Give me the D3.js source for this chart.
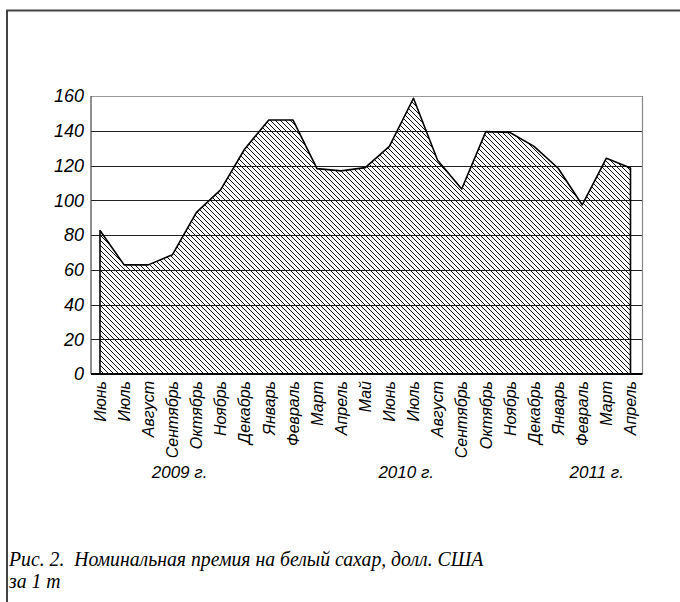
<!DOCTYPE html>
<html>
<head>
<meta charset="utf-8">
<script src="https://cdn.jsdelivr.net/npm/d3@7"></script>
<style>
  html, body { margin: 0; padding: 0; background: #fff; }
  svg { display: block; }
</style>
</head>
<body>
<svg id="chart" width="680" height="602"></svg>
<script>
// Monthly premium, Jun 2009 .. Apr 2011
const months = ['Июнь', 'Июль', 'Август', 'Сентябрь', 'Октябрь', 'Ноябрь', 'Декабрь',
  'Январь', 'Февраль', 'Март', 'Апрель', 'Май', 'Июнь', 'Июль', 'Август', 'Сентябрь',
  'Октябрь', 'Ноябрь', 'Декабрь', 'Январь', 'Февраль', 'Март', 'Апрель'];
const premium = [82.6, 62.8, 62.8, 68.6, 93, 106, 129.5, 146.2, 146.2, 118.2, 116.9, 118.8,
  131, 158.7, 123, 106.5, 139.5, 139, 131, 118.4, 97.3, 124.2, 118.5];
const yTicks = [0, 20, 40, 60, 80, 100, 120, 140, 160];
// year label sits under the month with this index
const years = [{ label: '2009 г.', at: 3.3 }, { label: '2010 г.', at: 12.7 }, { label: '2011 г.', at: 20.6 }];
const caption = ['Рис. 2.  Номинальная премия на белый сахар, долл. США', 'за 1 т'];

const svg = d3.select('#chart');
const axisFont = '"Liberation Sans", Arial, sans-serif';

// outer frame (left + top only)
svg.append('path')
  .attr('d', 'M7,602 V10.5 H680')
  .attr('fill', 'none').attr('stroke', '#444').attr('stroke-width', 2);

const plot = { left: 91, right: 642.5, top: 96, bottom: 374 };

const x = d3.scalePoint().domain(d3.range(months.length)).range([100, 630.5]);
const y = d3.scaleLinear().domain([0, 160]).range([plot.bottom, plot.top]);

// hatch pattern
const defs = svg.append('defs');
const pat = defs.append('pattern')
  .attr('id', 'hatch').attr('patternUnits', 'userSpaceOnUse')
  .attr('width', 5).attr('height', 5);
pat.append('path')
  .attr('d', 'M-1,-1 L6,6 M-1,4 L1,6 M4,-1 L6,1')
  .attr('stroke', '#111').attr('stroke-width', 1);

// gridlines
svg.append('g').selectAll('line')
  .data(yTicks.filter(t => t > 0))
  .join('line')
  .attr('x1', plot.left).attr('x2', plot.right)
  .attr('y1', d => Math.round(y(d)) + 0.5).attr('y2', d => Math.round(y(d)) + 0.5)
  .attr('stroke', d => d === 160 ? '#999' : '#222').attr('stroke-width', 1.2);

// right border
svg.append('line')
  .attr('x1', plot.right).attr('x2', plot.right)
  .attr('y1', plot.top).attr('y2', plot.bottom)
  .attr('stroke', '#888').attr('stroke-width', 1.2);

// area
const area = d3.area()
  .x((d, i) => x(i))
  .y0(y(0))
  .y1(d => y(d));
svg.append('path')
  .datum(premium)
  .attr('d', area)
  .attr('fill', 'url(#hatch)')
  .attr('stroke', '#000').attr('stroke-width', 1.6).attr('stroke-linejoin', 'round');

// left axis line and bottom axis line
svg.append('line')
  .attr('x1', plot.left).attr('x2', plot.left)
  .attr('y1', plot.top).attr('y2', plot.bottom)
  .attr('stroke', '#444').attr('stroke-width', 1.2);
svg.append('line')
  .attr('x1', plot.left).attr('x2', plot.right)
  .attr('y1', plot.bottom).attr('y2', plot.bottom)
  .attr('stroke', '#000').attr('stroke-width', 2);

// y tick labels
svg.append('g').selectAll('text')
  .data(yTicks)
  .join('text')
  .attr('x', 84).attr('y', d => y(d))
  .attr('dy', '0.36em')
  .attr('text-anchor', 'end')
  .attr('font-family', axisFont).attr('font-style', 'italic').attr('font-size', 18)
  .attr('fill', '#000')
  .text(d => d);

// month labels, rotated
svg.append('g').selectAll('text')
  .data(months)
  .join('text')
  .attr('transform', (d, i) => `translate(${x(i)},381) rotate(-90)`)
  .attr('dy', '0.36em')
  .attr('text-anchor', 'end')
  .attr('font-family', axisFont).attr('font-style', 'italic').attr('font-size', 16)
  .attr('fill', '#000')
  .text(d => d);

// year labels
const step = x(1) - x(0);
svg.append('g').selectAll('text')
  .data(years)
  .join('text')
  .attr('x', d => x(0) + d.at * step).attr('y', 478)
  .attr('text-anchor', 'middle')
  .attr('font-family', axisFont).attr('font-style', 'italic').attr('font-size', 17)
  .attr('fill', '#000')
  .text(d => d.label);

// caption (narrow Times-like italic)
svg.append('g')
  .attr('transform', 'translate(9,0) scale(0.94,1)')
  .selectAll('text')
  .data(caption)
  .join('text')
  .attr('x', 0).attr('y', (d, i) => 566 + i * 22)
  .attr('font-family', '"Liberation Serif", "Times New Roman", serif')
  .attr('font-style', 'italic').attr('font-size', 21)
  .attr('fill', '#000')
  .style('white-space', 'pre')
  .text(d => d);
</script>
</body>
</html>
